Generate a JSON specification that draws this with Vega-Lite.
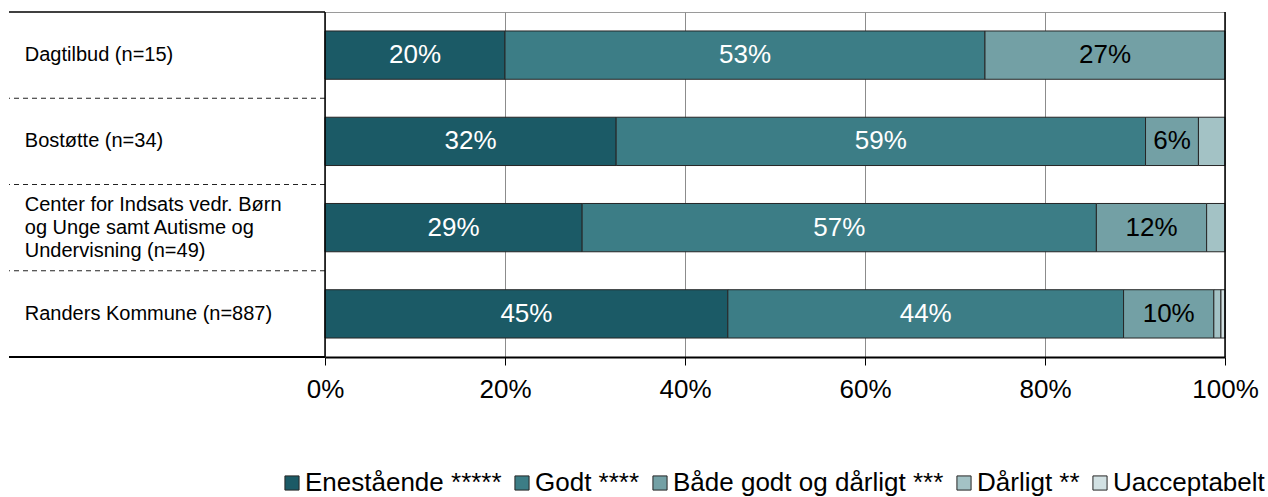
{
  "$schema": "https://vega.github.io/schema/vega-lite/v6.json",
  "padding": {"left": 8, "top": 10, "right": 0, "bottom": 0},
  "background": "white",
  "spacing": 0,
  "bounds": "flush",
  "config": {"font": "Liberation Sans", "view": {"stroke": null}, "concat": {"spacing": 0}},
  "datasets": {
    "rows": [
      {"grp": "Dagtilbud (n=15)"},
      {"grp": "Bostøtte (n=34)"},
      {"grp": "Center for Indsats vedr. Børn\nog Unge samt Autisme og\nUndervisning (n=49)"},
      {"grp": "Randers Kommune (n=887)"}
    ],
    "shares": [
      {"grp": "Dagtilbud (n=15)", "kat": "Enestående *****", "idx": 1, "value": 0.2},
      {"grp": "Dagtilbud (n=15)", "kat": "Godt ****", "idx": 2, "value": 0.5333},
      {"grp": "Dagtilbud (n=15)", "kat": "Både godt og dårligt ***", "idx": 3, "value": 0.2667},
      {"grp": "Bostøtte (n=34)", "kat": "Enestående *****", "idx": 1, "value": 0.3235},
      {"grp": "Bostøtte (n=34)", "kat": "Godt ****", "idx": 2, "value": 0.5882},
      {"grp": "Bostøtte (n=34)", "kat": "Både godt og dårligt ***", "idx": 3, "value": 0.0588},
      {"grp": "Bostøtte (n=34)", "kat": "Dårligt **", "idx": 4, "value": 0.0295},
      {"grp": "Center for Indsats vedr. Børn\nog Unge samt Autisme og\nUndervisning (n=49)", "kat": "Enestående *****", "idx": 1, "value": 0.2857},
      {"grp": "Center for Indsats vedr. Børn\nog Unge samt Autisme og\nUndervisning (n=49)", "kat": "Godt ****", "idx": 2, "value": 0.5714},
      {"grp": "Center for Indsats vedr. Børn\nog Unge samt Autisme og\nUndervisning (n=49)", "kat": "Både godt og dårligt ***", "idx": 3, "value": 0.1225},
      {"grp": "Center for Indsats vedr. Børn\nog Unge samt Autisme og\nUndervisning (n=49)", "kat": "Dårligt **", "idx": 4, "value": 0.0204},
      {"grp": "Randers Kommune (n=887)", "kat": "Enestående *****", "idx": 1, "value": 0.4476},
      {"grp": "Randers Kommune (n=887)", "kat": "Godt ****", "idx": 2, "value": 0.4397},
      {"grp": "Randers Kommune (n=887)", "kat": "Både godt og dårligt ***", "idx": 3, "value": 0.1003},
      {"grp": "Randers Kommune (n=887)", "kat": "Dårligt **", "idx": 4, "value": 0.0079},
      {"grp": "Randers Kommune (n=887)", "kat": "Uacceptabelt", "idx": 5, "value": 0.0045}
    ]
  },
  "hconcat": [
    {
      "width": 316,
      "height": 345,
      "data": {"name": "rows"},
      "encoding": {
        "y": {"field": "grp", "type": "nominal", "scale": {"domain": ["Dagtilbud (n=15)", "Bostøtte (n=34)", "Center for Indsats vedr. Børn\nog Unge samt Autisme og\nUndervisning (n=49)", "Randers Kommune (n=887)"], "paddingInner": 0, "paddingOuter": 0}, "axis": null}
      },
      "layer": [
        {
          "transform": [{"filter": "indexof(datum.grp, '\\n') < 0"}],
          "mark": {"type": "text", "align": "left", "baseline": "middle", "fontSize": 20, "color": "black"},
          "encoding": {
            "x": {"datum": 0.05, "type": "quantitative", "scale": {"domain": [0, 1]}, "axis": null},
            "text": {"field": "grp"}
          }
        },
        {
          "transform": [{"filter": "indexof(datum.grp, '\\n') >= 0"}],
          "mark": {"type": "text", "align": "left", "baseline": "middle", "fontSize": 20, "lineBreak": "\n", "lineHeight": 23, "dy": -23, "color": "black"},
          "encoding": {
            "x": {"datum": 0.05, "type": "quantitative", "scale": {"domain": [0, 1]}, "axis": null},
            "text": {"field": "grp"}
          }
        },
        {
          "transform": [{"filter": {"field": "grp", "oneOf": ["Bostøtte (n=34)", "Center for Indsats vedr. Børn\nog Unge samt Autisme og\nUndervisning (n=49)", "Randers Kommune (n=887)"]}}],
          "mark": {"type": "rule", "strokeDash": [5, 4], "color": "#222222", "strokeWidth": 1},
          "encoding": {"y": {"field": "grp", "type": "nominal", "bandPosition": 0}}
        },
        {
          "transform": [{"filter": {"field": "grp", "equal": "Dagtilbud (n=15)"}}],
          "mark": {"type": "rule", "color": "black", "strokeWidth": 1.5},
          "encoding": {"y": {"field": "grp", "type": "nominal", "bandPosition": 0}}
        },
        {
          "transform": [{"filter": {"field": "grp", "equal": "Randers Kommune (n=887)"}}],
          "mark": {"type": "rule", "color": "black", "strokeWidth": 2},
          "encoding": {"y": {"field": "grp", "type": "nominal", "bandPosition": 1}}
        }
      ]
    },
    {
      "width": 900,
      "height": 345,
      "data": {"name": "shares"},
      "view": {"stroke": "#9a9a9a"},
      "layer": [
        {
          "mark": {"type": "bar", "stroke": "#262626", "strokeWidth": 1},
          "encoding": {
            "y": {"field": "grp", "type": "nominal", "scale": {"domain": ["Dagtilbud (n=15)", "Bostøtte (n=34)", "Center for Indsats vedr. Børn\nog Unge samt Autisme og\nUndervisning (n=49)", "Randers Kommune (n=887)"], "paddingInner": 0.44, "paddingOuter": 0.22}, "axis": null},
            "x": {"field": "value", "type": "quantitative", "stack": "zero", "scale": {"domain": [0, 1], "nice": false},
              "axis": {"values": [0, 0.2, 0.4, 0.6, 0.8, 1], "format": ".0%", "title": null, "labelFontSize": 26, "labelColor": "black", "labelFlush": false, "grid": true, "gridColor": "#8c8c8c", "gridWidth": 1, "domainColor": "black", "domainWidth": 2, "tickColor": "black", "tickSize": 8, "tickWidth": 1, "labelPadding": 11}},
            "color": {"field": "kat", "type": "nominal",
              "scale": {"domain": ["Enestående *****", "Godt ****", "Både godt og dårligt ***", "Dårligt **", "Uacceptabelt"], "range": ["#1b5a66", "#3c7d86", "#73a0a5", "#a3c2c5", "#d2e1e3"]},
              "legend": {"title": null, "orient": "none", "legendX": 270, "legendY": 458, "direction": "horizontal", "labelFontSize": 26, "labelColor": "black", "labelLimit": 500, "symbolType": "square", "symbolSize": 200, "symbolStrokeColor": "#262626", "symbolStrokeWidth": 1, "labelOffset": 0, "columnPadding": 7, "padding": 0}},
            "order": {"field": "idx", "type": "quantitative"}
          }
        },
        {
          "transform": [{"filter": "datum.value >= 0.05"}],
          "mark": {"type": "text", "fontSize": 26, "baseline": "middle", "align": "center"},
          "encoding": {
            "y": {"field": "grp", "type": "nominal"},
            "x": {"field": "value", "type": "quantitative", "stack": "zero", "bandPosition": 0.5},
            "detail": {"field": "kat"},
            "order": {"field": "idx", "type": "quantitative"},
            "text": {"field": "value", "type": "quantitative", "format": ".0%"},
            "color": {"condition": {"test": "datum.idx <= 2", "value": "white"}, "value": "black"}
          }
        },
        {
          "data": {"values": [{"edge": 0}, {"edge": 1}]},
          "mark": {"type": "rule", "color": "black", "strokeWidth": 1.5},
          "encoding": {"x": {"field": "edge", "type": "quantitative"}}
        }
      ]
    }
  ],
  "resolve": {"scale": {"x": "independent", "y": "independent"}}
}
